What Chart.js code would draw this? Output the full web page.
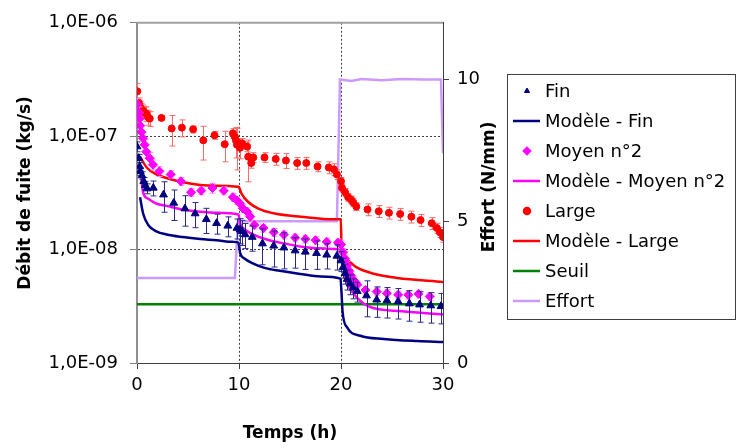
<!DOCTYPE html>
<html>
<head>
<meta charset="utf-8">
<script src="https://cdn.jsdelivr.net/npm/chart.js@4.4.0/dist/chart.umd.min.js"></script>
<style>
  html, body { margin: 0; padding: 0; background: #fff; }
  canvas { display: block; }
</style>
</head>
<body>
<canvas id="chart" width="737" height="448"></canvas>
<script>
// axes
const xTicks = [0, 10, 20, 30];
const leftTicks = [1e-9, 1e-8, 1e-7, 1e-6];
const leftTickLabels = ['1,0E-09', '1,0E-08', '1,0E-07', '1,0E-06'];
const rightTicks = [0, 5, 10];
const rightTitle = 'Effort (N/mm)';

// measured: Fin
const finTime = [0, 0.17, 0.26, 0.32, 0.49, 0.66, 0.81, 0.98, 1.6, 2.6, 3.6, 4.7, 5.7, 6.8, 7.8, 8.9, 9.8,
  10.1, 10.3, 10.6, 11.3, 12.3, 13.4, 14.4, 15.5, 16.5, 17.6, 18.6, 19.6,
  20.0, 20.2, 20.4, 20.6, 20.9, 21.2, 21.6, 22.5, 23.5, 24.5, 25.6, 26.7, 27.7, 28.8, 29.8];
const finFlow = [8.1e-8, 6.4e-8, 5.4e-8, 4.9e-8, 4.5e-8, 4.0e-8, 3.7e-8, 3.45e-8, 3.5e-8, 3.05e-8, 2.58e-8, 2.3e-8, 2.08e-8, 1.85e-8, 1.71e-8, 1.62e-8, 1.55e-8,
  1.5e-8, 1.45e-8, 1.36e-8, 1.29e-8, 1.13e-8, 1.08e-8, 1.04e-8, 9.8e-9, 9.55e-9, 9.3e-9, 9.0e-9, 8.8e-9,
  8.0e-9, 7.0e-9, 6.2e-9, 5.5e-9, 5.0e-9, 4.6e-9, 4.3e-9, 3.93e-9, 3.61e-9, 3.56e-9, 3.49e-9, 3.34e-9, 3.27e-9, 3.21e-9, 3.16e-9];
const finErr = [0.1, 0.08, 0.08, 0.08, 0.08, 0.08, 0.08, 0.1, 0.15, 0.3, 0.3, 0.3, 0.25, 0.25, 0.2, 0.2, 0.2,
  0.25, 0.25, 0.25, 0.25, 0.35, 0.35, 0.35, 0.3, 0.3, 0.28, 0.25, 0.25,
  0.2, 0.2, 0.2, 0.2, 0.2, 0.2, 0.2, 0.35, 0.3, 0.3, 0.3, 0.3, 0.3, 0.3, 0.3];

// measured: Moyen n°2
const moyTime = [0.03, 0.17, 0.26, 0.32, 0.42, 0.59, 0.75, 0.91, 1.25, 1.57, 2.2, 3.3, 4.3, 5.3, 6.3, 7.4, 8.5, 9.4,
  9.8, 10.1, 10.4, 10.8, 11.1, 11.5, 12.4, 13.4, 14.4, 15.5, 16.5, 17.5, 18.6, 19.7,
  20.0, 20.2, 20.4, 20.6, 20.8, 21.0, 21.3, 21.6, 22.4, 23.5, 24.5, 25.6, 26.6, 27.6, 28.7];
const moyFlow = [1.91e-7, 1.62e-7, 1.43e-7, 1.24e-7, 1.09e-7, 9.6e-8, 8.4e-8, 7.3e-8, 6.4e-8, 5.6e-8, 4.9e-8, 4.6e-8, 4.0e-8, 3.2e-8, 3.31e-8, 3.49e-8, 3.31e-8, 2.9e-8,
  2.71e-8, 2.54e-8, 2.3e-8, 2.16e-8, 1.95e-8, 1.65e-8, 1.55e-8, 1.42e-8, 1.35e-8, 1.27e-8, 1.24e-8, 1.21e-8, 1.17e-8, 1.15e-8,
  1.11e-8, 9.5e-9, 8.3e-9, 7.3e-9, 6.5e-9, 5.9e-9, 5.3e-9, 4.9e-9, 4.4e-9, 4.26e-9, 4.12e-9, 3.99e-9, 3.99e-9, 4.07e-9, 3.86e-9];
const moyErr = [0.12, 0.12, 0.12, 0.12, 0.12, 0.12, 0.12, 0.12, 0.12, 0.1, 0.1, 0.08, 0.08, 0.08, 0.08, 0.1, 0.08, 0.08,
  0.08, 0.08, 0.08, 0.08, 0.08, 0.08, 0.08, 0.08, 0.08, 0.08, 0.08, 0.08, 0.08, 0.08,
  0.08, 0.08, 0.08, 0.08, 0.08, 0.08, 0.08, 0.08, 0.08, 0.08, 0.08, 0.08, 0.08, 0.08, 0.08];

// measured: Large
const largeTime = [0.03, 0.17, 0.26, 0.42, 0.59, 0.75, 0.91, 1.08, 1.25,
  2.4, 3.4, 4.4, 5.5, 6.5, 7.6, 8.6, 9.4, 9.6, 9.7, 9.8, 10.1,
  10.3, 10.8, 10.9, 11.2, 11.4, 12.5, 13.6, 14.6, 15.7, 16.6, 17.7, 18.8, 19.3, 19.6,
  20.0, 20.1, 20.4, 20.7, 21.0, 21.2, 21.5, 22.6, 23.7, 24.7, 25.8, 26.9, 27.8, 28.9, 29.4, 29.7, 30.0];
const largeFlow = [2.49e-7, 1.98e-7, 1.85e-7, 1.74e-7, 1.68e-7, 1.62e-7, 1.58e-7, 1.47e-7, 1.43e-7,
  1.45e-7, 1.17e-7, 1.19e-7, 1.15e-7, 9.2e-8, 1.02e-7, 8.5e-8, 1.06e-7, 9.9e-8, 9.2e-8, 8.4e-8, 7.9e-8,
  8.65e-8, 8.1e-8, 6.6e-8, 5.8e-8, 6.5e-8, 6.5e-8, 6.3e-8, 6.1e-8, 5.8e-8, 5.8e-8, 5.4e-8, 5.3e-8, 5.1e-8, 4.6e-8,
  4.0e-8, 3.5e-8, 3.2e-8, 2.9e-8, 2.75e-8, 2.6e-8, 2.4e-8, 2.26e-8, 2.18e-8, 2.11e-8, 2.06e-8, 1.95e-8, 1.82e-8, 1.71e-8, 1.55e-8, 1.42e-8, 1.29e-8];
const largeErr = [0.17, 0.1, 0.1, 0.12, 0.12, 0.12, 0.15, 0.15, 0.15,
  0.05, 0.3, 0.17, 0.07, 0.33, 0.08, 0.3, 0.1, 0.1, 0.3, 0.4, 0.2,
  0.1, 0.1, 0.4, 0.1, 0.1, 0.1, 0.12, 0.15, 0.12, 0.12, 0.1, 0.12, 0.12, 0.1,
  0.08, 0.08, 0.08, 0.08, 0.08, 0.08, 0.08, 0.12, 0.12, 0.12, 0.12, 0.12, 0.12, 0.12, 0.1, 0.1, 0.1];

// models
const modFinTime = [0.3, 0.6, 1.1, 1.9, 2.9, 4.5, 6.2, 7.8, 9.4, 9.95,
  10.05, 10.1, 10.5, 11.3, 12.5, 14, 16, 18, 19.95,
  20.05, 20.15, 20.6, 21.9, 24.2, 27.5, 30];
const modFinFlow = [2.9e-8, 2.08e-8, 1.65e-8, 1.45e-8, 1.36e-8, 1.29e-8, 1.24e-8, 1.21e-8, 1.17e-8, 1.15e-8,
  1.02e-8, 9.4e-9, 8.4e-9, 7.6e-9, 6.9e-9, 6.5e-9, 6.1e-9, 5.8e-9, 5.55e-9,
  4.2e-9, 2.86e-9, 2.06e-9, 1.74e-9, 1.63e-9, 1.56e-9, 1.53e-9];

const modMoyTime = [0.3, 0.6, 1.1, 1.9, 2.9, 4.5, 6.2, 7.8, 9.95,
  10.1, 10.5, 11.3, 12.8, 14.5, 16.5, 18.5, 19.95,
  20.2, 20.55, 21.2, 22.7, 26, 30];
const modMoyFlow = [5.5e-8, 3.2e-8, 2.81e-8, 2.54e-8, 2.43e-8, 2.26e-8, 2.16e-8, 2.11e-8, 2.04e-8,
  1.71e-8, 1.52e-8, 1.37e-8, 1.22e-8, 1.13e-8, 1.05e-8, 1.02e-8, 1.0e-8,
  7.24e-9, 5.19e-9, 4.12e-9, 3.16e-9, 2.86e-9, 2.68e-9];

const modLargeTime = [0.3, 0.95, 1.9, 3.2, 5.2, 7.5, 9.95,
  10.26, 10.9, 11.9, 13.5, 16.1, 19.4, 19.98,
  20.06, 20.5, 21.5, 23.2, 25.5, 30];
const modLargeFlow = [6.6e-8, 5.3e-8, 4.6e-8, 4.2e-8, 3.83e-8, 3.66e-8, 3.58e-8,
  3.1e-8, 2.63e-8, 2.3e-8, 2.08e-8, 1.95e-8, 1.85e-8, 1.85e-8,
  1.0e-8, 8.25e-9, 7.0e-9, 6.12e-9, 5.62e-9, 5.19e-9];

const seuilTime = [0, 30];
const seuilFlow = [3.3e-9, 3.3e-9];

// applied load (right axis)
const effortTime = [0, 9.6, 9.9, 19.6, 19.9, 21, 22, 24, 26, 28, 29.8, 30];
const effortLoad = [3.0, 3.0, 5.0, 5.0, 10.0, 9.95, 10.02, 9.97, 10.02, 10.0, 10.0, 7.4];

const pts = (xs, ys) => xs.map((x, i) => ({ x: x, y: ys[i] }));

Chart.defaults.font.family = '"DejaVu Sans", sans-serif';
Chart.defaults.color = '#000';

// error bars drawn under each marker series
const errorBars = {
    id: 'errorBars',
    beforeDatasetDraw(chart, args) {
        const ds = chart.data.datasets[args.index];
        if (!ds.errors) return;
        const ctx = chart.ctx;
        const xs = chart.scales.x, ys = chart.scales.y;
        const area = chart.chartArea;
        ctx.save();
        ctx.beginPath();
        ctx.rect(area.left, area.top, area.right - area.left, area.bottom - area.top);
        ctx.clip();
        ctx.strokeStyle = ds.errorColor;
        ctx.lineWidth = 1;
        ds.data.forEach((p, i) => {
            const e = ds.errors[i] * p.y;
            const px = Math.round(xs.getPixelForValue(p.x)) + 0.5;
            const top = ys.getPixelForValue(p.y + e);
            const bot = ys.getPixelForValue(p.y - e);
            ctx.beginPath();
            ctx.moveTo(px, top); ctx.lineTo(px, bot);
            ctx.moveTo(px - 3, top); ctx.lineTo(px + 3, top);
            ctx.moveTo(px - 3, bot); ctx.lineTo(px + 3, bot);
            ctx.stroke();
        });
        ctx.restore();
    }
};

// grey frame on top of the plot area, and the right axis title read bottom to top
const frameAndTitle = {
    id: 'frameAndTitle',
    afterDraw(chart) {
        const { ctx, chartArea } = chart;
        ctx.save();
        ctx.strokeStyle = '#a0a0a0';
        ctx.lineWidth = 2;
        ctx.beginPath();
        ctx.moveTo(chartArea.left, chartArea.top);
        ctx.lineTo(chartArea.right, chartArea.top);
        ctx.stroke();

        const y1 = chart.scales.y1;
        ctx.translate(y1.right - 13, (chartArea.top + chartArea.bottom) / 2 - 6);
        ctx.rotate(-Math.PI / 2);
        ctx.font = 'bold 17px "DejaVu Sans"';
        ctx.fillStyle = '#000';
        ctx.textAlign = 'center';
        ctx.textBaseline = 'middle';
        ctx.fillText(rightTitle, 0, 0);
        ctx.restore();
    }
};

// boxed legend on the right
const boxLegend = {
    id: 'boxLegend',
    afterDraw(chart) {
        const ctx = chart.ctx;
        const x0 = 507, y0 = 74, w = 228, h = 245;
        ctx.save();
        ctx.fillStyle = '#fff';
        ctx.fillRect(x0, y0, w, h);
        ctx.strokeStyle = '#404040';
        ctx.lineWidth = 1;
        ctx.strokeRect(x0 + 0.5, y0 + 0.5, w, h);
        ctx.font = '18px "DejaVu Sans"';
        ctx.textBaseline = 'middle';
        chart.data.datasets.forEach((ds, i) => {
            const y = y0 + 17 + i * 30;
            if (ds.showLine) {
                ctx.strokeStyle = ds.borderColor;
                ctx.lineWidth = 2.5;
                ctx.beginPath();
                ctx.moveTo(513, y); ctx.lineTo(540, y);
                ctx.stroke();
            } else {
                ctx.fillStyle = ds.backgroundColor;
                ctx.strokeStyle = ds.borderColor;
                Chart.helpers.drawPoint(ctx, { pointStyle: ds.pointStyle, radius: 3, borderWidth: 1, rotation: 0 }, 527, y);
            }
            ctx.fillStyle = '#000';
            ctx.fillText(ds.label, 545, y + 1);
        });
        ctx.restore();
    }
};

const setTicks = (list) => (scale) => { scale.ticks = list.map(v => ({ value: v })); };

new Chart(document.getElementById('chart'), {
    type: 'scatter',
    data: {
        datasets: [
            { label: 'Fin', data: pts(finTime, finFlow), errors: finErr, errorColor: '#2a2a8a',
              pointStyle: 'triangle', pointRadius: 4.5, backgroundColor: '#000080', borderColor: '#000080', borderWidth: 1, order: 1 },
            { label: 'Modèle - Fin', data: pts(modFinTime, modFinFlow), showLine: true, pointRadius: 0,
              borderColor: '#000080', backgroundColor: '#000080', borderWidth: 2.5, cubicInterpolationMode: 'monotone', order: 5 },
            { label: 'Moyen n°2', data: pts(moyTime, moyFlow), errors: moyErr, errorColor: '#ff8cff',
              pointStyle: 'rectRot', pointRadius: 4.5, backgroundColor: '#ff00ff', borderColor: '#ff00ff', borderWidth: 1, order: 2 },
            { label: 'Modèle - Moyen n°2', data: pts(modMoyTime, modMoyFlow), showLine: true, pointRadius: 0,
              borderColor: '#ff00ff', backgroundColor: '#ff00ff', borderWidth: 2.5, cubicInterpolationMode: 'monotone', order: 5 },
            { label: 'Large', data: pts(largeTime, largeFlow), errors: largeErr, errorColor: '#ff6a6a',
              pointStyle: 'circle', pointRadius: 3.5, backgroundColor: '#ff0000', borderColor: '#ff0000', borderWidth: 1, order: 3 },
            { label: 'Modèle - Large', data: pts(modLargeTime, modLargeFlow), showLine: true, pointRadius: 0,
              borderColor: '#ff0000', backgroundColor: '#ff0000', borderWidth: 2.5, cubicInterpolationMode: 'monotone', order: 5 },
            { label: 'Seuil', data: pts(seuilTime, seuilFlow), showLine: true, pointRadius: 0,
              borderColor: '#008000', backgroundColor: '#008000', borderWidth: 2.5, order: 6 },
            { label: 'Effort', data: pts(effortTime, effortLoad), showLine: true, pointRadius: 0, yAxisID: 'y1',
              borderColor: '#cc99ff', backgroundColor: '#cc99ff', borderWidth: 2.5, order: 7 }
        ]
    },
    options: {
        responsive: false,
        devicePixelRatio: 1,
        animation: false,
        layout: { padding: { top: 15, right: 234, left: 0, bottom: 0 } },
        plugins: { legend: { display: false }, tooltip: { enabled: false } },
        scales: {
            x: {
                type: 'linear', min: 0, max: 30,
                afterBuildTicks: setTicks(xTicks),
                afterFit: (s) => { s.height = 85; },
                grid: {
                    color: (c) => (c.tick && (c.tick.value === 10 || c.tick.value === 20)) ? '#404040' : 'rgba(0,0,0,0)',
                    tickColor: '#404040', tickLength: 6, lineWidth: 1
                },
                border: { color: '#404040', width: 1, dash: [2, 2] },
                ticks: { font: { size: 18 }, padding: 6, maxRotation: 0 },
                title: { display: true, text: 'Temps (h)', font: { size: 17, weight: 'bold' }, padding: { top: 0, bottom: 4 } }
            },
            y: {
                type: 'logarithmic', position: 'left', min: 1e-9, max: 1e-6,
                afterBuildTicks: setTicks(leftTicks),
                afterFit: (s) => { s.width = 137; },
                grid: {
                    color: (c) => (c.tick && (c.tick.value > 2e-9 && c.tick.value < 5e-7)) ? '#404040' : 'rgba(0,0,0,0)',
                    tickColor: '#808080', tickLength: 7, lineWidth: 1
                },
                border: { color: '#909090', width: 2, dash: [2, 2] },
                ticks: { font: { size: 18 }, padding: 12, callback: (v, i) => leftTickLabels[i] },
                title: { display: true, text: 'Débit de fuite (kg/s)', font: { size: 17, weight: 'bold' }, padding: { top: 15, bottom: 0 } }
            },
            y1: {
                type: 'linear', position: 'right', min: 0, max: 12,
                afterBuildTicks: setTicks(rightTicks),
                afterFit: (s) => { s.width = 60; },
                grid: { drawOnChartArea: false, tickColor: '#404040', tickLength: 6 },
                border: { color: '#404040', width: 1 },
                ticks: { font: { size: 18 }, padding: 8 },
                title: { display: false }
            }
        }
    },
    plugins: [errorBars, frameAndTitle, boxLegend]
});
</script>
</body>
</html>
